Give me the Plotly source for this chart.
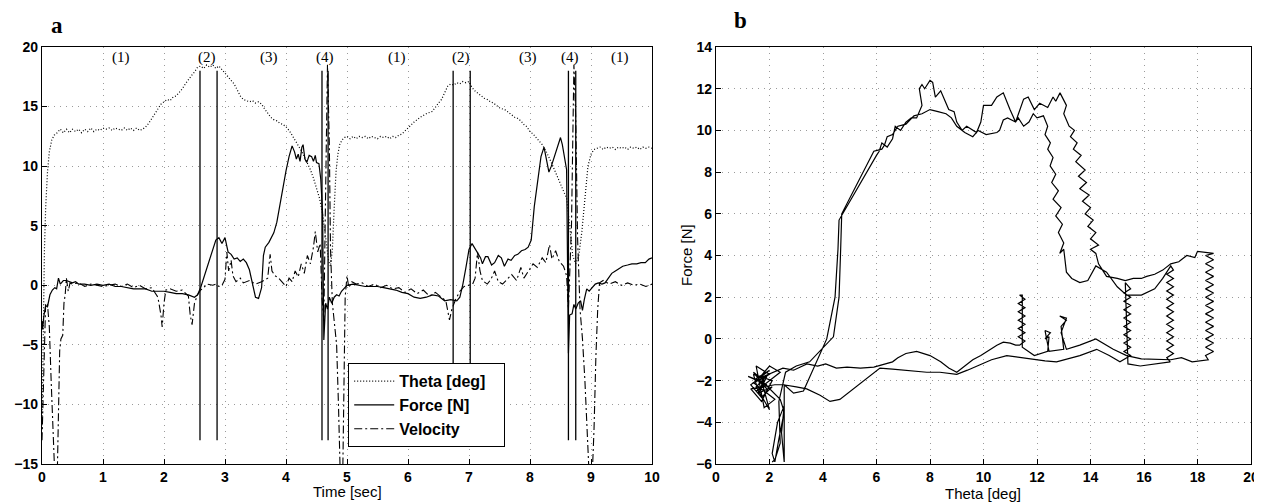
import plotly.graph_objects as go

# -------------------------------
# Panel a: time series
# -------------------------------
theta_t = [0.00, 0.02, 0.04, 0.06, 0.09, 0.12, 0.16, 0.20, 0.25, 0.30, 0.35, 0.40, 0.45, 0.50,
           0.55, 0.60, 0.65, 0.70, 0.75, 0.80, 0.85, 0.90, 0.95, 1.00, 1.05, 1.10, 1.15, 1.20,
           1.25, 1.30, 1.35, 1.40, 1.45, 1.50, 1.55, 1.60, 1.65, 1.70, 1.75, 1.80, 1.85, 1.90,
           1.95, 2.00, 2.05, 2.10, 2.15, 2.20, 2.25, 2.30, 2.35, 2.40, 2.45, 2.50, 2.55, 2.60,
           2.65, 2.70, 2.75, 2.80, 2.85, 2.90, 2.95, 3.00, 3.05, 3.10, 3.15, 3.20, 3.25, 3.30,
           3.35, 3.40, 3.45, 3.50, 3.55, 3.60, 3.65, 3.70, 3.75, 3.80, 3.85, 3.90, 3.95, 4.00,
           4.05, 4.10, 4.15, 4.20, 4.25, 4.30, 4.35, 4.40, 4.45, 4.50, 4.55, 4.60, 4.65, 4.70,
           4.73, 4.76, 4.79, 4.82, 4.85, 4.88, 4.92, 4.96, 5.00, 5.05, 5.10, 5.15, 5.20, 5.25,
           5.30, 5.35, 5.40, 5.45, 5.50, 5.55, 5.60, 5.65, 5.70, 5.75, 5.80, 5.85, 5.90, 6.00,
           6.10, 6.20, 6.30, 6.40, 6.45, 6.50, 6.55, 6.60, 6.65, 6.70, 6.75, 6.80, 6.85, 6.90,
           6.95, 7.00, 7.05, 7.10, 7.15, 7.20, 7.25, 7.30, 7.35, 7.40, 7.45, 7.50, 7.55, 7.60,
           7.65, 7.70, 7.75, 7.80, 7.85, 7.90, 7.95, 8.00, 8.05, 8.10, 8.15, 8.20, 8.25, 8.30,
           8.35, 8.40, 8.45, 8.50, 8.55, 8.60, 8.65, 8.70, 8.75, 8.80, 8.85, 8.90, 8.95, 9.00,
           9.05, 9.10, 9.15, 9.20, 9.25, 9.30, 9.35, 9.40, 9.45, 9.50, 9.55, 9.60, 9.65, 9.70,
           9.75, 9.80, 9.85, 9.90, 9.95, 10.00]
theta_deg = [-12.0, -2.0, 3.0, 6.5, 9.5, 11.2, 12.2, 12.6, 12.8, 13.1, 12.8, 13.1, 12.8, 13.1,
             12.9, 13.1, 12.8, 13.1, 12.9, 13.2, 12.9, 13.1, 13.0, 13.2, 13.1, 13.2, 13.0, 13.2,
             13.1, 13.0, 13.2, 13.0, 13.2, 13.0, 13.2, 13.0, 13.1, 13.3, 13.6, 14.0, 14.5, 14.9,
             15.2, 15.4, 15.6, 15.5, 15.8, 15.9, 16.2, 16.5, 16.9, 17.3, 17.6, 17.9, 18.3, 18.4,
             18.2, 18.5, 18.3, 18.5, 18.2, 18.4, 18.1, 17.8, 17.5, 17.2, 16.9, 16.4, 15.9, 15.6,
             15.5, 15.4, 15.5, 15.3, 15.4, 15.2, 14.8, 14.4, 14.1, 13.9, 13.8, 13.6, 13.5, 13.3,
             13.0, 12.6, 12.2, 11.8, 11.3, 10.8, 10.3, 9.7, 9.0, 8.2, 7.3, 6.0, 4.0, 2.0,
             1.6, 3.0, 6.5, 9.5, 11.0, 11.8, 12.2, 12.4, 12.5, 12.3, 12.5, 12.3, 12.5, 12.4,
             12.5, 12.3, 12.5, 12.4, 12.3, 12.5, 12.4, 12.5, 12.3, 12.5, 12.4, 12.6, 12.7, 13.2,
             13.7, 14.1, 14.4, 14.6, 15.0, 15.3, 15.6, 16.2, 16.7, 16.9, 16.8, 17.0, 16.9, 17.1,
             17.0, 17.1, 16.6, 16.3, 16.1, 15.9, 15.7, 15.6, 15.4, 15.3, 15.1, 14.9, 14.8, 14.7,
             14.5, 14.3, 14.1, 14.0, 13.8, 13.5, 13.3, 12.9, 12.7, 12.4, 12.1, 11.8, 11.4, 10.9,
             10.3, 9.7, 9.1, 8.5, 7.8, 7.3, 5.0, 2.5, 1.8, 2.5, 4.5, 7.5, 10.0, 11.0,
             11.4, 11.5, 11.6, 11.4, 11.6, 11.5, 11.6, 11.4, 11.6, 11.5, 11.6, 11.4, 11.6, 11.5,
             11.6, 11.4, 11.6, 11.5, 11.6, 11.5]

force_t = [0.00, 0.01, 0.03, 0.06, 0.09, 0.13, 0.17, 0.21, 0.24, 0.27, 0.30, 0.35, 0.40, 0.45,
           0.50, 0.55, 0.60, 0.70, 0.80, 0.90, 1.00, 1.10, 1.20, 1.30, 1.40, 1.50, 1.60, 1.70,
           1.80, 1.90, 2.00, 2.10, 2.20, 2.30, 2.40, 2.50, 2.55, 2.60, 2.65, 2.70, 2.75, 2.80,
           2.85, 2.90, 2.95, 3.00, 3.05, 3.10, 3.15, 3.20, 3.25, 3.30, 3.35, 3.40, 3.45, 3.50,
           3.55, 3.60, 3.63, 3.66, 3.72, 3.80, 3.85, 3.90, 3.95, 4.00, 4.05, 4.10, 4.14, 4.17,
           4.20, 4.23, 4.26, 4.28, 4.31, 4.34, 4.38, 4.42, 4.45, 4.48, 4.50, 4.54, 4.57, 4.60,
           4.62, 4.65, 4.68, 4.71, 4.75, 4.79, 4.83, 4.87, 4.91, 4.95, 5.00, 5.10, 5.20, 5.30,
           5.40, 5.50, 5.60, 5.70, 5.80, 5.90, 6.00, 6.10, 6.20, 6.30, 6.40, 6.50, 6.60, 6.70,
           6.80, 6.85, 6.90, 6.95, 7.00, 7.05, 7.10, 7.14, 7.19, 7.22, 7.27, 7.31, 7.37, 7.42,
           7.48, 7.53, 7.58, 7.64, 7.69, 7.75, 7.80, 7.86, 7.92, 7.97, 8.02, 8.07, 8.12, 8.18,
           8.23, 8.28, 8.31, 8.35, 8.40, 8.45, 8.50, 8.53, 8.56, 8.60, 8.63, 8.65, 8.69, 8.72,
           8.75, 8.79, 8.83, 8.86, 8.89, 8.93, 8.97, 9.02, 9.07, 9.12, 9.18, 9.23, 9.28, 9.34,
           9.40, 9.45, 9.52, 9.60, 9.67, 9.75, 9.82, 9.89, 9.95, 10.00]
force_n = [-3.0, -3.7, -2.6, -1.7, -1.8, -0.8, -0.4, -0.2, -0.3, 0.6, 0.1, 0.4, 0.4, 0.3,
           0.2, 0.3, 0.1, 0.1, 0.0, 0.1, 0.0, 0.1, -0.1, -0.1, -0.2, -0.3, -0.3, -0.3,
           -0.5, -0.5, -0.5, -0.6, -0.7, -0.7, -0.8, -1.0, -0.8, -0.2, 0.6, 1.5, 2.3, 3.0,
           3.8, 4.0, 3.5, 4.0, 2.8, 2.6, 2.2, 2.3, 2.0, 2.2, 1.9, 1.3, 0.0, -1.0,
           -1.1, -0.2, 2.5, 3.2, 3.6, 4.4, 5.3, 6.8, 8.3, 9.6, 10.8, 11.7, 11.2, 10.6,
           11.0, 10.4, 11.6, 11.8, 10.6, 10.3, 10.9, 10.8, 10.4, 10.9, 10.3, 10.2, 8.9, 6.0,
           -4.6, -1.5, -2.0, -1.0, -1.5, -1.0, -0.8, -0.9, -0.5, -0.3, 0.0, 0.1, 0.0, -0.1,
           -0.1, -0.1, -0.2, -0.3, -0.4, -0.6, -0.7, -1.0, -1.1, -1.0, -0.8, -0.9, -1.3, -1.2,
           -1.3, -1.0, 0.1, 1.5, 3.0, 3.5, 3.1, 2.7, 2.3, 1.8, 2.4, 2.4, 1.7, 1.9,
           2.5, 2.3, 1.6, 2.2, 2.1, 2.5, 2.6, 2.9, 3.0, 3.2, 3.8, 6.6, 8.6, 10.8,
           11.6, 10.3, 9.5, 10.0, 10.8, 11.6, 12.4, 11.8, 10.9, 9.7, -5.7, -2.5, -2.4, -1.6,
           -2.0, -1.5, -1.3, -2.1, -1.2, -0.3, -0.5, -0.2, 0.1, 0.2, 0.1, 0.2, 0.6, 1.0,
           1.2, 1.4, 1.6, 1.7, 1.8, 1.8, 1.9, 1.9, 2.2, 2.3]

vel_t = [0.00, 0.03, 0.06, 0.09, 0.12, 0.15, 0.18, 0.21, 0.25, 0.27, 0.29, 0.31, 0.34, 0.36,
         0.38, 0.40, 0.43, 0.46, 0.50, 0.60, 0.70, 0.80, 0.90, 1.00, 1.10, 1.20, 1.30, 1.40,
         1.50, 1.60, 1.70, 1.80, 1.85, 1.90, 1.95, 1.97, 2.00, 2.03, 2.10, 2.20, 2.30, 2.40,
         2.43, 2.46, 2.50, 2.55, 2.60, 2.65, 2.70, 2.80, 2.85, 2.90, 2.95, 3.00, 3.03, 3.06,
         3.10, 3.13, 3.18, 3.25, 3.30, 3.40, 3.50, 3.60, 3.70, 3.74, 3.77, 3.82, 3.88, 3.95,
         4.00, 4.05, 4.10, 4.15, 4.20, 4.25, 4.30, 4.35, 4.40, 4.45, 4.48, 4.52, 4.56, 4.59,
         4.62, 4.65, 4.68, 4.71, 4.73, 4.76, 4.79, 4.83, 4.86, 4.89, 4.93, 4.95, 4.97, 5.00,
         5.03, 5.08, 5.15, 5.25, 5.35, 5.45, 5.55, 5.65, 5.75, 5.85, 5.95, 6.05, 6.15, 6.25,
         6.35, 6.45, 6.55, 6.62, 6.68, 6.72, 6.78, 6.85, 6.92, 7.00, 7.06, 7.10, 7.14, 7.18,
         7.22, 7.30, 7.36, 7.42, 7.48, 7.55, 7.62, 7.70, 7.78, 7.85, 7.90, 7.97, 8.05, 8.12,
         8.20, 8.26, 8.32, 8.36, 8.42, 8.48, 8.55, 8.60, 8.63, 8.68, 8.72, 8.75, 8.78, 8.82,
         8.86, 8.90, 8.94, 8.97, 9.02, 9.05, 9.08, 9.11, 9.14, 9.20, 9.30, 9.40, 9.50, 9.60,
         9.70, 9.80, 9.90, 10.00]
velocity = [-13.0, -6.0, -1.5, -1.6, -3.5, -8.0, -12.0, -16.0, -16.0, -10.0, -5.5, -4.5, -4.2, -1.5,
            -0.8, 0.6, -0.5, 0.2, 0.1, 0.2, -0.1, 0.1, 0.0, -0.1, 0.0, 0.1, -0.1, 0.1,
            -0.2, 0.0, -0.3, -0.2, -0.6, -1.0, -2.5, -3.5, -1.5, -0.4, -0.3, -0.5, -0.4, -0.9,
            -2.5, -3.3, -1.5, -0.8, -0.4, -0.2, 0.1, 0.0, 0.1, -0.1, 0.0, 0.5, 2.8, 1.2,
            2.1, 0.8, 0.3, 0.6, 0.2, 0.4, 0.1, 0.3, 0.6, 2.6, 1.2, 0.8, 0.6, 0.2,
            -0.1, 0.6, 0.3, 1.2, 0.7, 1.8, 1.0, 2.5, 1.8, 3.2, 4.5, 2.8, 3.5, -1.0,
            -3.0, 8.0, 18.5, 12.0, 3.0, -1.5, -3.0, -5.0, -10.0, -16.0, -16.0, -6.0, -1.0, 0.8,
            -0.2, 0.3, 0.1, 0.2, -0.1, 0.1, -0.2, 0.0, -0.3, -0.2, -0.6, -0.3, -0.7, -0.4,
            -0.9, -0.6, -1.0, -1.3, -2.9, -2.0, -1.2, -0.5, -0.1, 0.0, 0.1, 0.6, 2.8, 1.2,
            0.4, 0.1, 0.5, 1.2, 0.3, 0.1, 0.5, 0.9, 0.4, 1.5, 0.6, 1.2, 1.8, 1.5,
            2.3, 1.9, 3.4, 2.2, 2.9, 2.0, 1.6, 0.8, -2.0, 5.0, 18.5, 14.0, 4.0, -2.0,
            -4.5, -8.0, -12.0, -16.0, -16.0, -12.0, -6.0, -2.0, 0.2, 0.4, 0.1, 0.3, 0.0, 0.2,
            0.0, 0.1, -0.1, 0.1]

# phase boundaries (vertical markers) and phase labels
phase_times = [2.59, 2.87, 4.59, 4.69, 6.74, 7.02, 8.63, 8.75]
phase_low = -13.0
phase_high = 18.0
phase_label_t = [1.30, 2.70, 3.72, 4.64, 5.82, 6.87, 7.97, 8.66, 9.48]
phase_labels = ["(1)", "(2)", "(3)", "(4)", "(1)", "(2)", "(3)", "(4)", "(1)"]

# -------------------------------
# Panel b: force vs theta (two cycles)
# -------------------------------
theta_b = [
    1.8, 1.4, 1.9, 1.5, 2.0, 1.3, 1.7, 2.1, 1.6, 1.9, 1.4, 2.2, 1.8, 1.5, 2.0, 1.6, 1.2, 1.9,
    1.5, 2.4, 2.0, 1.6,
    2.5, 2.9, 3.4, 3.8, 4.1, 4.5, 4.9, 5.4, 5.9, 6.3, 6.6, 6.8, 7.1, 7.5, 7.8, 8.0, 8.4, 8.7,
    9.0, 9.3, 9.6, 9.9, 10.25, 10.5, 10.74, 11.0, 11.2,
    11.35, 11.55, 11.3, 11.55, 11.3, 11.55, 11.3, 11.55, 11.3, 11.55, 11.3, 11.55, 11.35,
    11.45, 11.45,
    11.9, 12.4, 12.45, 12.3, 12.5, 12.3, 12.45, 13.0, 12.9, 13.1, 12.85, 13.1, 12.9, 13.1,
    13.6, 14.2, 14.85, 15.35, 15.9, 16.5, 17.0, 17.4, 17.8, 18.4,
    18.3, 18.6, 18.3, 18.6, 18.3, 18.6, 18.3, 18.6, 18.3, 18.6, 18.3, 18.6, 18.3, 18.6,
    18.3, 18.6, 18.3, 18.6, 18.3, 18.6, 18.3, 18.6, 18.3, 18.6, 18.3, 18.6,
    18.0, 17.9, 17.6, 17.3, 17.0, 16.7, 16.4, 16.1, 15.9, 15.6, 15.3, 15.0, 14.6, 14.3, 14.2,
    14.0, 14.3, 14.0, 14.2, 13.9, 14.1, 13.8, 14.0, 13.7, 13.95, 13.6, 13.85, 13.55, 13.8,
    13.45, 13.65, 13.36, 13.5, 13.25, 13.4, 13.2, 13.0, 13.1, 12.86, 12.7, 12.6, 12.4, 12.1,
    11.9, 11.67, 11.5, 11.35, 11.2, 10.99, 10.74, 10.5, 10.3, 10.0, 9.9, 9.74, 9.5, 9.37,
    9.2, 9.0, 8.9, 8.7, 8.6, 8.4, 8.2, 8.1, 8.0, 7.8, 7.7, 7.6, 7.7, 7.5, 7.3, 7.1, 6.9,
    6.7, 6.6, 6.4, 6.2, 6.1, 6.0, 4.6, 4.56, 4.45, 4.14, 3.27, 2.9, 2.55,
    2.55, 2.45, 2.55, 2.3, 2.1, 2.2, 2.35, 2.55, 2.4, 1.7, 2.0, 1.5, 1.8, 1.6, 1.4, 2.1,
    1.7, 1.3,
    2.2, 2.52, 3.0, 3.39, 3.89, 4.26, 4.63, 5.13, 5.63, 6.0, 6.13, 6.6, 7.13, 7.5, 7.88,
    8.37, 9.0, 9.4, 9.75, 10.3, 10.87, 11.4, 11.86, 12.3, 12.73, 13.2, 13.6, 14.23, 14.7,
    15.1,
    15.25, 15.5, 15.25, 15.5, 15.25, 15.5, 15.25, 15.5, 15.25, 15.5, 15.25, 15.5, 15.25,
    15.5, 15.25, 15.5, 15.25, 15.5, 15.3, 15.4,
    15.86, 16.4, 16.98,
    16.85, 17.1, 16.85, 17.1, 16.85, 17.1, 16.85, 17.1, 16.85, 17.1, 16.85, 17.1, 16.85,
    17.1, 16.85, 17.1, 16.85, 17.1, 16.85, 17.1, 16.85, 17.1, 17.0,
    16.7, 16.4, 16.1, 15.9, 15.6, 15.35, 15.0, 14.6, 14.2, 13.9, 13.6, 13.3, 13.1, 13.0,
    12.85, 13.0, 12.8, 12.95, 12.7, 12.9, 12.6, 12.8, 12.55, 12.7, 12.49, 12.6, 12.4, 12.5,
    12.3, 12.4, 12.24, 12.0, 11.86, 11.7, 11.5, 11.3, 11.2, 10.9, 10.74, 10.6, 10.5, 10.1,
    9.8, 9.6, 9.3, 9.0, 8.8, 8.6, 8.3, 8.0, 7.7, 7.4, 7.1, 6.8, 6.6, 6.4, 6.3, 6.2, 5.9,
    4.7, 4.66, 4.6, 4.39, 3.5, 3.0, 2.6, 2.35, 2.4, 2.2, 2.1]
force_b = [
    -2.0, -1.6, -2.4, -1.9, -1.5, -2.2, -2.8, -2.3, -2.6, -1.8, -2.1, -2.9, -3.3, -1.3, -1.7,
    -2.0, -1.8, -2.2, -2.5, -1.6, -1.3, -1.9,
    -1.4, -1.5, -1.2, -1.3, -1.2, -1.4, -1.35, -1.4, -1.35, -1.2, -1.1, -0.9, -0.7, -0.6,
    -0.7, -0.8, -1.1, -1.4, -1.6, -1.3, -1.0, -0.8, -0.5, -0.3, -0.16, -0.2, -0.3,
    -0.3, -0.1, 0.1, 0.3, 0.5, 0.7, 0.9, 1.1, 1.3, 1.5, 1.7, 1.9, 2.1, 2.1, -0.4,
    -0.8, -0.6, 0.1, 0.0, 0.3, 0.4, -0.6, -0.5, 0.6, 0.9, 1.1, 1.0, 0.3, -0.5,
    -0.3, 0.0, -0.5, -0.8, -0.96, -1.0, -1.0, -0.9, -1.1, -1.0,
    -0.8, -0.6, -0.4, -0.2, 0.0, 0.2, 0.4, 0.6, 0.8, 1.0, 1.2, 1.4, 1.6, 1.8,
    2.0, 2.2, 2.4, 2.6, 2.8, 3.0, 3.2, 3.4, 3.6, 3.8, 4.0, 4.1,
    4.2, 3.9, 4.0, 3.7, 3.6, 3.3, 3.1, 3.0, 2.9, 2.9, 2.8, 2.9, 3.0, 3.6, 4.1,
    4.3, 4.5, 4.8, 5.1, 5.4, 5.7, 6.0, 6.3, 6.6, 6.9, 7.2, 7.5, 7.8, 8.1,
    8.5, 8.8, 9.1, 9.4, 9.7, 10.0, 10.2, 10.8, 11.2, 11.8, 11.4, 11.6, 11.1, 11.3,
    11.0, 11.6, 11.5, 10.9, 10.4, 11.0, 11.8, 11.6, 11.2, 11.2, 10.4, 9.9, 10.1, 10.2,
    10.0, 10.4, 10.9, 11.0, 11.3, 11.9, 11.6, 12.3, 12.4, 12.0, 12.2, 12.0, 11.2, 10.6,
    10.6, 10.4, 10.0, 10.2, 9.6, 9.2, 9.4, 9.0, 8.8, 5.7, 4.3, 2.0, 0.0, -2.5, -2.6, -2.2,
    -5.9, -4.5, -3.2, -4.0, -5.5, -5.9, -4.8, -3.5, -2.9, -2.0, -3.4, -2.3, -1.9, -2.6,
    -1.7, -2.0, -3.0, -2.4,
    -2.2, -2.2, -2.3, -2.4, -2.7, -3.0, -2.9, -2.4, -1.9, -1.5, -1.4, -1.45, -1.5, -1.55,
    -1.6, -1.6, -1.7, -1.5, -1.3, -1.0, -0.8, -0.9, -1.0, -1.05, -1.1, -0.95, -0.8, -0.5,
    -0.8, -1.1,
    -1.0, -0.8, -0.6, -0.4, -0.2, 0.0, 0.2, 0.4, 0.6, 0.8, 1.0, 1.2, 1.4, 1.6, 1.8, 2.0,
    2.2, 2.4, 2.7, -1.2,
    -1.3, -1.2, -1.1,
    -0.9, -0.7, -0.5, -0.3, -0.1, 0.1, 0.3, 0.5, 0.7, 0.9, 1.1, 1.3, 1.5, 1.7, 1.9, 2.1,
    2.3, 2.5, 2.7, 2.9, 3.1, 3.3, 3.5,
    2.9, 2.4, 2.2, 2.1, 2.1, 2.1, 2.5, 3.2, 3.5, 2.8, 2.7, 2.9, 3.2, 4.3,
    4.1, 4.6, 5.1, 5.5, 5.9, 6.3, 6.7, 7.1, 7.5, 7.9, 8.3, 8.7, 9.1, 9.4,
    9.8, 10.2, 10.7, 10.6, 10.8, 10.4, 10.2, 10.6, 10.4, 10.6, 10.5, 10.0, 9.9, 9.8,
    10.0, 9.7, 9.9, 10.2, 10.6, 10.8, 10.9, 11.0, 10.8, 10.7, 10.3, 10.2, 9.8, 9.7, 9.3,
    9.1, 9.0,
    6.0, 4.3, 2.0, 0.1, -1.1, -1.3, -1.6, -3.0, -5.0, -5.8, -5.9]

# -------------------------------
# Build figure (page body has an 8px margin, so the figure is offset by 8px)
# -------------------------------
W, H = 1254, 494
OFF = 8


def px_x(x):
    return (x - OFF) / W


def px_y(y):
    return 1 - (y - OFF) / H


fig = go.Figure()

pad = "\u00a0\u00a0\u00a0"
fig.add_trace(go.Scatter(x=theta_t, y=theta_deg, mode="lines", name="Theta [deg]" + pad,
                         line=dict(color="black", width=1.2, dash="1px,2px")))
fig.add_trace(go.Scatter(x=force_t, y=force_n, mode="lines", name="Force [N]",
                         line=dict(color="black", width=1.2)))
fig.add_trace(go.Scatter(x=vel_t, y=velocity, mode="lines", name="Velocity",
                         line=dict(color="black", width=1.1, dash="8px,3px,2px,3px")))

# vertical phase markers
px_, py_ = [], []
for t in phase_times:
    px_ += [t, t, None]
    py_ += [phase_low, phase_high, None]
fig.add_trace(go.Scatter(x=px_, y=py_, mode="lines", showlegend=False,
                         line=dict(color="black", width=1.3), hoverinfo="skip"))

fig.add_trace(go.Scatter(x=theta_b, y=force_b, mode="lines", showlegend=False,
                         line=dict(color="black", width=1.2), xaxis="x2", yaxis="y2"))

for t, lab in zip(phase_label_t, phase_labels):
    fig.add_annotation(x=t, y=19.1, xref="x", yref="y", text=lab, showarrow=False,
                       font=dict(family="Liberation Serif", size=15, color="black"))

# panel letters and axis titles
text_font = dict(family="Liberation Sans", size=15, color="black")
fig.add_annotation(x=px_x(57), y=px_y(25), xref="paper", yref="paper", text="<b>a</b>",
                   xanchor="center", yanchor="middle", showarrow=False,
                   font=dict(family="Liberation Serif", size=23, color="black"))
fig.add_annotation(x=px_x(740), y=px_y(20), xref="paper", yref="paper", text="<b>b</b>",
                   xanchor="center", yanchor="middle", showarrow=False,
                   font=dict(family="Liberation Serif", size=23, color="black"))
fig.add_annotation(x=px_x(347), y=px_y(491), xref="paper", yref="paper", text="Time [sec]",
                   xanchor="center", yanchor="middle", showarrow=False, font=text_font)
fig.add_annotation(x=px_x(983), y=px_y(493), xref="paper", yref="paper", text="Theta [deg]",
                   xanchor="center", yanchor="middle", showarrow=False, font=text_font)
fig.add_annotation(x=px_x(686), y=px_y(255), xref="paper", yref="paper", text="Force [N]",
                   textangle=-90, xanchor="center", yanchor="middle", showarrow=False,
                   font=text_font)

axis_style = dict(showline=True, linecolor="black", linewidth=1.2, mirror=True,
                  ticks="inside", ticklen=5, tickcolor="black", automargin=False,
                  showgrid=True, gridcolor="#9a9a9a", griddash="1px,5px", gridwidth=1,
                  zeroline=False,
                  tickfont=dict(family="Liberation Sans", size=14, color="black", weight="bold"))

ydom = [px_y(464), px_y(47)]
fig.update_layout(
    width=W, height=H,
    margin=dict(l=0, r=0, t=0, b=0),
    paper_bgcolor="white", plot_bgcolor="white",
    xaxis=dict(domain=[px_x(42), px_x(652)], range=[0, 10], dtick=1, **axis_style),
    yaxis=dict(domain=ydom, range=[-15, 20], dtick=5, **axis_style),
    xaxis2=dict(domain=[px_x(716), px_x(1251)], range=[0, 20], dtick=2, anchor="y2",
                **axis_style),
    yaxis2=dict(domain=ydom, range=[-6, 14], dtick=2, anchor="x2", **axis_style),
    legend=dict(x=px_x(348), y=px_y(363), xanchor="left", yanchor="top",
                bgcolor="white", bordercolor="black", borderwidth=1.2,
                font=dict(family="Liberation Sans", size=16, color="black", weight="bold"),
                itemwidth=40, tracegroupgap=0),
    showlegend=True,
)

fig.write_html("out.html")
